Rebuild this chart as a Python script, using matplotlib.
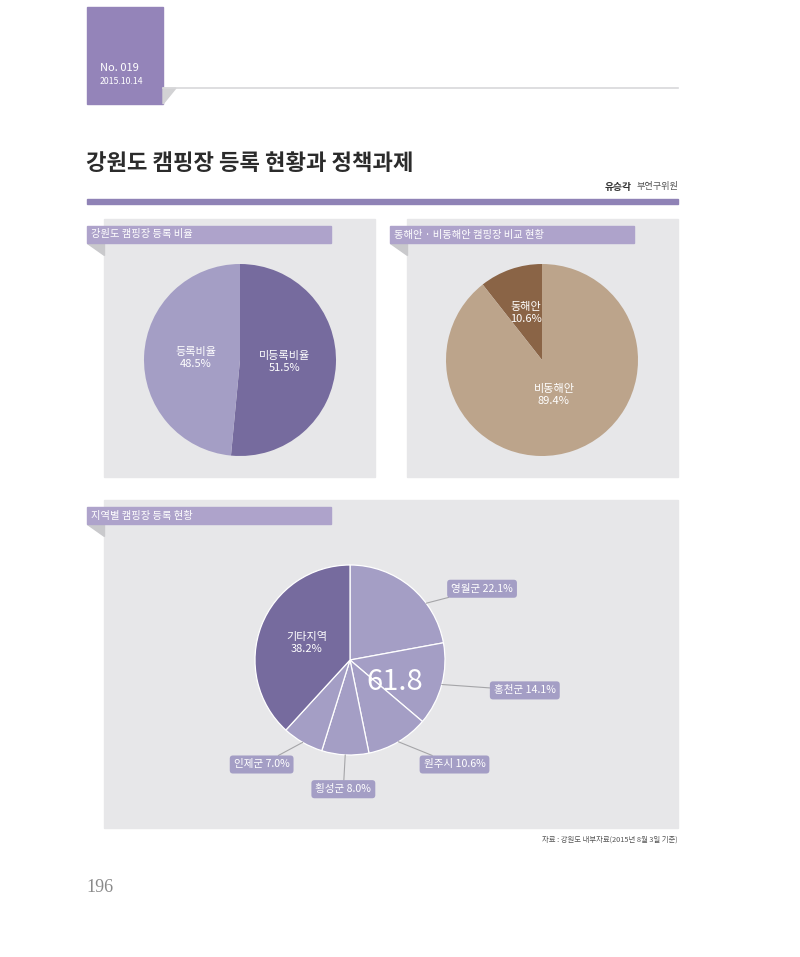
import numpy as np
import matplotlib
matplotlib.use('Agg')
import matplotlib.pyplot as plt
from matplotlib.patches import Rectangle, Polygon

plt.rcParams['font.family'] = ['Noto Sans CJK KR', 'DejaVu Sans']

# Data
reg_labels = ['미등록비율', '등록비율']
reg_values = [51.5, 48.5]

coast_labels = ['동해안', '비동해안']
coast_values = [10.6, 89.4]

region_labels = ['영월군', '홍천군', '원주시', '횡성군', '인제군', '기타지역']
region_values = [22.1, 14.1, 10.6, 8.0, 7.0, 38.2]

# Colours
DARK = '#766b9e'
LIGHT = '#a49ec5'
HEADER = '#aea3cb'
TAB = '#9484b9'
PANEL = '#e7e7e9'
BROWN_D = '#8a6446'
BROWN_L = '#bca48b'

W, H = 800, 957
fig = plt.figure(figsize=(W / 100, H / 100), dpi=100)
fig.patch.set_facecolor('white')

# page canvas in pixel units
bg = fig.add_axes([0, 0, 1, 1])
bg.set_xlim(0, W)
bg.set_ylim(H, 0)
bg.axis('off')

# top tab
bg.add_patch(Rectangle((87, 7), 76, 97, color=TAB))
bg.add_patch(Polygon([(163, 88), (176, 88), (163, 104)], color='#d2d2d4'))
bg.plot([163, 678], [87.5, 87.5], color='#d8d8da', lw=1.2)
bg.text(100, 68, 'No. 019', color='white', fontsize=8, va='center')
bg.text(100, 81, '2015.10.14', color='white', fontsize=6.3, va='center',
        fontweight='medium')

# title
bg.text(86, 163, '강원도 캠핑장 등록 현황과 정책과제', fontsize=16,
        fontweight='bold', color='#2b2b2b', va='center')
bg.text(678, 187, '부연구위원', fontsize=6.6, color='#555555', ha='right', va='center')
bg.text(632, 187, '유승각', fontsize=7, color='#333333', fontweight='bold',
        ha='right', va='center')
bg.add_patch(Rectangle((87, 199), 591, 5, color='#8f82b6'))


def panel(x0, y0, w, h, title):
    bg.add_patch(Rectangle((x0, y0), w, h, color=PANEL))
    bg.add_patch(Polygon([(x0 - 17, y0 + 24), (x0, y0 + 24), (x0, y0 + 36)],
                         color='#c9c9cc'))
    bg.add_patch(Rectangle((x0 - 17, y0 + 7), 244, 17, color=HEADER))
    bg.text(x0 - 13, y0 + 15.5, title, color='white', fontsize=7.4, va='center')


panel(104, 219, 271, 258, '강원도 캠핑장 등록 비율')
panel(407, 219, 271, 258, '동해안 · 비동해안 캠핑장 비교 현황')
panel(104, 500, 574, 328, '지역별 캠핑장 등록 현황')


def pie_axes(cx, cy, r):
    size = 2.5 * r
    a = fig.add_axes([(cx - size / 2) / W, 1 - (cy + size / 2) / H,
                      size / W, size / H])
    return a


def wedge_xy(w, d, frac=0.5):
    t = np.deg2rad(w.theta1 + frac * (w.theta2 - w.theta1))
    return d * np.cos(t), d * np.sin(t)


LBL = dict(color='white', fontsize=8, ha='center', va='center',
           linespacing=1.25, fontweight='medium')

# pie 1
ax1 = pie_axes(240, 360, 96)
w1, _ = ax1.pie(reg_values, colors=[DARK, LIGHT], startangle=90,
                counterclock=False, wedgeprops=dict(linewidth=0))
for w, lab, v in zip(w1, reg_labels, reg_values):
    ax1.text(*wedge_xy(w, 0.46), f'{lab}\n{v}%', **LBL)
ax1.set_xlim(-1.25, 1.25)
ax1.set_ylim(-1.25, 1.25)

# pie 2
ax2 = pie_axes(542, 360, 96)
w2, _ = ax2.pie(coast_values, colors=[BROWN_D, BROWN_L], startangle=90,
                wedgeprops=dict(linewidth=0))
for w, lab, v, d in zip(w2, coast_labels, coast_values, [0.52, 0.38]):
    ax2.text(*wedge_xy(w, d), f'{lab}\n{v}%', **LBL)
ax2.set_xlim(-1.25, 1.25)
ax2.set_ylim(-1.25, 1.25)

# pie 3
ax3 = pie_axes(350, 660, 95)
w3, _ = ax3.pie(region_values, colors=[LIGHT] * 5 + [DARK], startangle=90,
                counterclock=False,
                wedgeprops=dict(edgecolor='white', linewidth=0.9))
ax3.set_xlim(-1.25, 1.25)
ax3.set_ylim(-1.25, 1.25)

ax3.text(*wedge_xy(w3[-1], 0.49), f'{region_labels[-1]}\n{region_values[-1]}%', **LBL)
ax3.text(0.47, -0.23, f'{sum(region_values[:5]):.1f}', color='white',
         fontsize=21, ha='center', va='center')

box_pos = [(1.39, 0.75), (1.84, -0.32), (1.1, -1.1), (-0.07, -1.36), (-0.93, -1.1)]
anchor = [0.33, 0.5, 0.5, 0.5, 0.5]
for w, lab, v, pos, f in zip(w3[:5], region_labels[:5], region_values[:5],
                             box_pos, anchor):
    ax3.annotate(f'{lab} {v}%', xy=wedge_xy(w, 1.0, f), xytext=pos,
                 color='white', fontsize=7.6, ha='center', va='center',
                 fontweight='medium',
                 bbox=dict(boxstyle='round,pad=0.38,rounding_size=0.3',
                           fc=LIGHT, ec='none'),
                 arrowprops=dict(arrowstyle='-', color='#a5a5a8', lw=0.8,
                                 shrinkA=0, shrinkB=0),
                 annotation_clip=False)

# footer
bg.text(678, 840, '자료 : 강원도 내부자료(2015년 8월 3일 기준)', fontsize=5.3,
        color='#555555', ha='right', va='center')
bg.text(86, 887, '196', fontsize=13, color='#8a8a8a', family='Liberation Serif',
        va='center')

fig.savefig('out.png', dpi=100, facecolor='white')
